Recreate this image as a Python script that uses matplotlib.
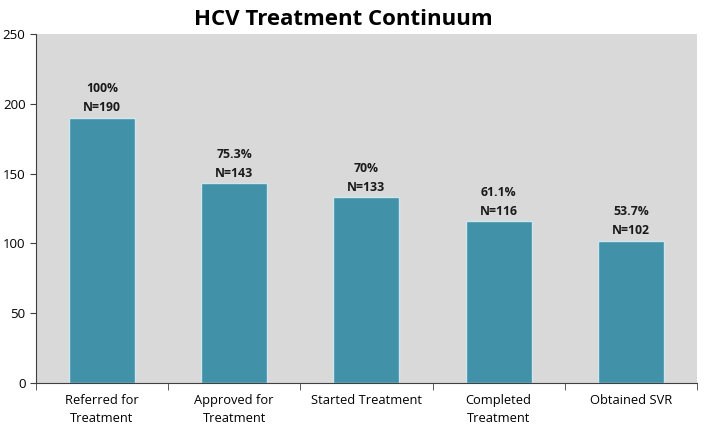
import matplotlib.pyplot as plt
import numpy as np

categories = ['Referred for\nTreatment', 'Approved for\nTreatment', 'Started Treatment',
              'Completed\nTreatment', 'Obtained SVR']
counts = [190, 143, 133, 116, 102]
percents = ['100%', '75.3%', '70%', '61.1%', '53.7%']

plt.rcParams['font.family'] = ['Open Sans', 'DejaVu Sans']

fig = plt.figure(figsize=(7.04, 4.29), dpi=100)
ax = fig.add_axes([0.051, 0.107, 0.939, 0.814])
ax.set_facecolor('#d9d9d9')

x = np.arange(len(categories))
bars = ax.bar(x, counts, width=0.5, color='#4192a9', edgecolor='#cfe6ee', linewidth=1)

for xi, c, p in zip(x, counts, percents):
    ax.text(xi, c + 2.5, p + '\nN=' + str(c), ha='center', va='bottom',
            fontsize=8.8, fontweight='bold', linespacing=1.6, color='#1a1a1a')

ax.set_xlim(-0.5, len(categories) - 0.5)
ax.set_ylim(0, 250)
ax.set_yticks([0, 50, 100, 150, 200, 250])
ax.set_xticks(x)
ax.set_xticklabels(categories, fontsize=9.3, linespacing=1.45)
ax.set_xticks(np.arange(len(categories) + 1) - 0.5, minor=True)
ax.tick_params(axis='x', which='major', length=0, pad=8)
ax.tick_params(axis='x', which='minor', length=5, color='#404040')
ax.tick_params(axis='y', length=4, color='#404040', labelsize=9.5)

for s in ['top', 'right']:
    ax.spines[s].set_visible(False)
for s in ['left', 'bottom']:
    ax.spines[s].set_color('#404040')

fig.text(0.488, 1 - 25 / 429, 'HCV Treatment Continuum', ha='center', va='baseline',
         fontsize=16, fontweight='bold')

fig.savefig('out.png', dpi=100)
